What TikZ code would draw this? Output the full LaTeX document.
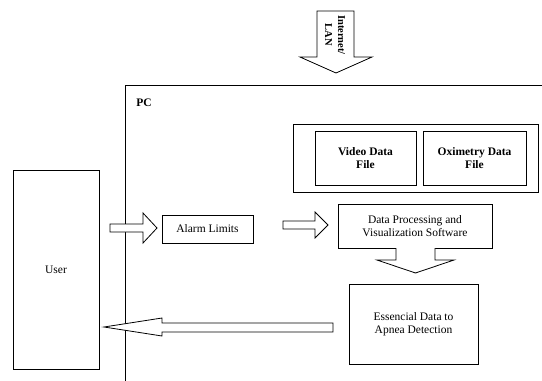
\documentclass[tikz,border=0pt]{standalone}
\usepackage{fontspec}
\setmainfont{Liberation Serif}
\begin{document}
\begin{tikzpicture}[x=1pt,y=-1pt,line width=0.8pt,
  txt/.style={inner sep=0pt,align=center,font=\fontsize{11.5}{13}\selectfont},
  box/.style={txt,draw,rectangle},
  boldbox/.style={box,font=\fontsize{11.5}{13}\selectfont\bfseries},
  blockarrow/.style={draw,fill=white,line join=miter}]
\useasboundingbox (0,0) rectangle (542,381);

% PC boundary
\coordinate (pccorner) at (125,85);
\coordinate (pcright) at (542,85);
\coordinate (pcbottom) at (125,381);
\draw (pcright) -- (pccorner) -- (pcbottom);
\node[txt,font=\fontsize{11.5}{13}\selectfont\bfseries] (pc) at (144,103) {PC};

% boxes
\node[box,minimum width=86pt,minimum height=199pt] (user) at (56,269.5) {};
\node[txt] (userlabel) at (56,270) {User};
\node[box,minimum width=91pt,minimum height=28pt] (alarm) at (207.5,229) {Alarm Limits};
\node[box,minimum width=245pt,minimum height=68pt] (files) at (415.5,158) {};
\node[boldbox,minimum width=101pt,minimum height=54pt] (video) at (365.5,158) {Video Data\\File};
\node[boldbox,minimum width=103pt,minimum height=54pt] (oxi) at (474.5,158) {Oximetry Data\\File};
\node[box,minimum width=154pt,minimum height=44pt] (proc) at (415,226) {Data Processing and\\Visualization Software};
\node[box,minimum width=129pt,minimum height=80pt] (ess) at (413.5,324) {Essencial Data to\\Apnea Detection};

% Internet / LAN input arrow
\draw[blockarrow] (317,11) -- (354,11) -- (354,57) -- (372,57) -- (336,73) -- (300,57) -- (317,57) -- cycle;
\node[rotate=-90,align=center,font=\fontsize{10.5}{13}\selectfont\bfseries] (net) at (335,35) {Internet/\\LAN};

% User -> Alarm Limits
\draw[blockarrow] (110,224) -- (143,224) -- (143,213) -- (157,228) -- (143,243) -- (143,232) -- (110,232) -- cycle;

% Alarm Limits -> processing
\draw[blockarrow] (283,221) -- (315,221) -- (315,212) -- (328,225) -- (315,238) -- (315,229) -- (283,229) -- cycle;

% processing -> essential data (opens into the box bottom)
\fill[white] (396.4,246) rectangle (434.6,249);
\draw[line join=miter,fill=white] (396,248) -- (396,260) -- (377,260) -- (415.5,273) -- (454,260) -- (435,260) -- (435,248);

% essential data -> User
\draw[blockarrow] (333,323) -- (162,323) -- (162,318) -- (104,327) -- (162,336) -- (162,332) -- (333,332) -- cycle;
\end{tikzpicture}
\end{document}
